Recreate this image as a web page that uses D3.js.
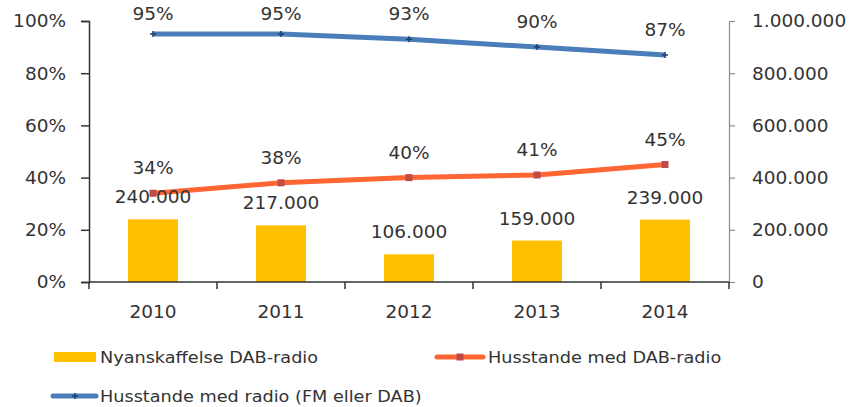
<!DOCTYPE html>
<html>
<head>
<meta charset="utf-8">
<script src="https://cdn.jsdelivr.net/npm/d3@7"></script>
<style>
  body { margin: 0; background: #fff; }
  text { font-family: "DejaVu Sans", sans-serif; fill: #333; }
</style>
</head>
<body>
<div id="chart"></div>
<script>
// data
var years = ["2010", "2011", "2012", "2013", "2014"];
var nyanskaffelse = [240000, 217000, 106000, 159000, 239000];
var husstandeDAB = [0.34, 0.38, 0.40, 0.41, 0.45];
var husstandeRadio = [0.95, 0.95, 0.93, 0.90, 0.87];
var leftTicks = [0, 0.2, 0.4, 0.6, 0.8, 1];
var rightTicks = [0, 200000, 400000, 600000, 800000, 1000000];

var W = 854, H = 407;
var margin = { left: 89, right: 125, top: 21, bottom: 125 };
var width = W - margin.left - margin.right;
var height = H - margin.top - margin.bottom;

var svg = d3.select("#chart").append("svg")
    .attr("width", W)
    .attr("height", H);

var g = svg.append("g")
    .attr("transform", "translate(" + margin.left + "," + margin.top + ")");

var x = d3.scaleBand().domain(years).range([0, width]);
var yL = d3.scaleLinear().domain([0, 1]).range([height, 0]);
var yR = d3.scaleLinear().domain([0, 1000000]).range([height, 0]);

var fmtPct = d3.format(".0%");
var fmtNum = function (v) { return d3.format(",")(v).replace(/,/g, "."); };

// bars
g.selectAll(".bar")
    .data(nyanskaffelse)
    .enter()
    .append("rect")
    .attr("x", function (d, i) { return x(years[i]) + x.bandwidth() / 2 - 25; })
    .attr("y", function (d) { return yR(d); })
    .attr("width", 50)
    .attr("height", function (d) { return height - yR(d); })
    .attr("fill", "#ffc000");

// left axis
var axL = g.append("g")
    .call(d3.axisLeft(yL).tickValues(leftTicks).tickFormat(fmtPct).tickSize(8).tickPadding(15));
axL.selectAll("path, line").attr("stroke", "#333").attr("stroke-width", 1.5);
axL.selectAll("text").style("font-size", "18.5px").attr("fill", "#333");

// right axis
var axR = g.append("g")
    .attr("transform", "translate(" + width + ",0)")
    .call(d3.axisRight(yR).tickValues(rightTicks).tickFormat(fmtNum).tickSize(6).tickPadding(17));
axR.selectAll("path, line").attr("stroke", "#8c8c8c").attr("stroke-width", 1.2);
axR.selectAll("text").style("font-size", "18.5px").attr("fill", "#333");

// bottom axis
var xTickScale = d3.scaleLinear().domain([0, years.length]).range([0, width]);
var axB = g.append("g").attr("transform", "translate(0," + height + ")");
axB.append("line").attr("x1", 0).attr("x2", width).attr("stroke", "#333").attr("stroke-width", 1.5);
axB.selectAll(".xtick")
    .data(d3.range(years.length + 1))
    .enter()
    .append("line")
    .attr("x1", function (d) { return xTickScale(d); })
    .attr("x2", function (d) { return xTickScale(d); })
    .attr("y1", 0).attr("y2", 7)
    .attr("stroke", "#333").attr("stroke-width", 1.5);
axB.selectAll(".xlabel")
    .data(years)
    .enter()
    .append("text")
    .attr("x", function (d) { return x(d) + x.bandwidth() / 2; })
    .attr("y", 36)
    .attr("text-anchor", "middle")
    .style("font-size", "18.5px")
    .text(function (d) { return d; });

var cx = function (d, i) { return x(years[i]) + x.bandwidth() / 2; };

// orange line
g.append("path")
    .datum(husstandeDAB)
    .attr("fill", "none")
    .attr("stroke", "#ff6633")
    .attr("stroke-width", 5)
    .attr("d", d3.line().x(cx).y(function (d) { return yL(d); }));
g.selectAll(".sq")
    .data(husstandeDAB)
    .enter()
    .append("rect")
    .attr("x", function (d, i) { return cx(d, i) - 3.5; })
    .attr("y", function (d) { return yL(d) - 3.5; })
    .attr("width", 7).attr("height", 7)
    .attr("fill", "#be4b48");

// blue line
g.append("path")
    .datum(husstandeRadio)
    .attr("fill", "none")
    .attr("stroke", "#4a7ebb")
    .attr("stroke-width", 5)
    .attr("d", d3.line().x(cx).y(function (d) { return yL(d); }));
g.selectAll(".cross")
    .data(husstandeRadio)
    .enter()
    .append("path")
    .attr("d", function (d, i) {
        var px = cx(d, i), py = yL(d);
        return "M" + (px - 3) + "," + py + "H" + (px + 3) + "M" + px + "," + (py - 3) + "V" + (py + 3);
    })
    .attr("stroke", "#1f3f6e").attr("stroke-width", 1.5);

// data labels
g.selectAll(".lblBar")
    .data(nyanskaffelse)
    .enter()
    .append("text")
    .attr("x", cx)
    .attr("y", function (d) { return yR(d) - 22 + 6; })
    .attr("text-anchor", "middle")
    .style("font-size", "18.5px")
    .text(fmtNum);

g.selectAll(".lblDAB")
    .data(husstandeDAB)
    .enter()
    .append("text")
    .attr("x", cx)
    .attr("y", function (d) { return yL(d) - 25 + 6; })
    .attr("text-anchor", "middle")
    .style("font-size", "18.5px")
    .text(fmtPct);

g.selectAll(".lblRadio")
    .data(husstandeRadio)
    .enter()
    .append("text")
    .attr("x", cx)
    .attr("y", function (d) { return Math.max(yL(d) - 25, 14 - margin.top) + 6; })
    .attr("text-anchor", "middle")
    .style("font-size", "18.5px")
    .text(fmtPct);

// legend (text stretched a little sideways, like the reference)
function legendText(px, py, label) {
    lg.append("text")
        .attr("transform", "translate(" + px + "," + py + ") scale(1.14,1)")
        .style("font-size", "15.5px")
        .text(label);
}
var lg = svg.append("g");
lg.append("rect").attr("x", 54).attr("y", 352).attr("width", 42).attr("height", 10).attr("fill", "#ffc000");
legendText(100, 363, "Nyanskaffelse DAB-radio");

lg.append("line").attr("x1", 437).attr("x2", 483).attr("y1", 357).attr("y2", 357)
    .attr("stroke", "#ff6633").attr("stroke-width", 5).attr("stroke-linecap", "round");
lg.append("rect").attr("x", 456.5).attr("y", 353.5).attr("width", 7).attr("height", 7).attr("fill", "#be4b48");
legendText(488, 363, "Husstande med DAB-radio");

lg.append("line").attr("x1", 53).attr("x2", 96).attr("y1", 396).attr("y2", 396)
    .attr("stroke", "#4a7ebb").attr("stroke-width", 5).attr("stroke-linecap", "round");
lg.append("path").attr("d", "M72,396H78M75,393V399").attr("stroke", "#1f3f6e").attr("stroke-width", 1.5);
legendText(100, 402, "Husstande med radio (FM eller DAB)");
</script>
</body>
</html>
